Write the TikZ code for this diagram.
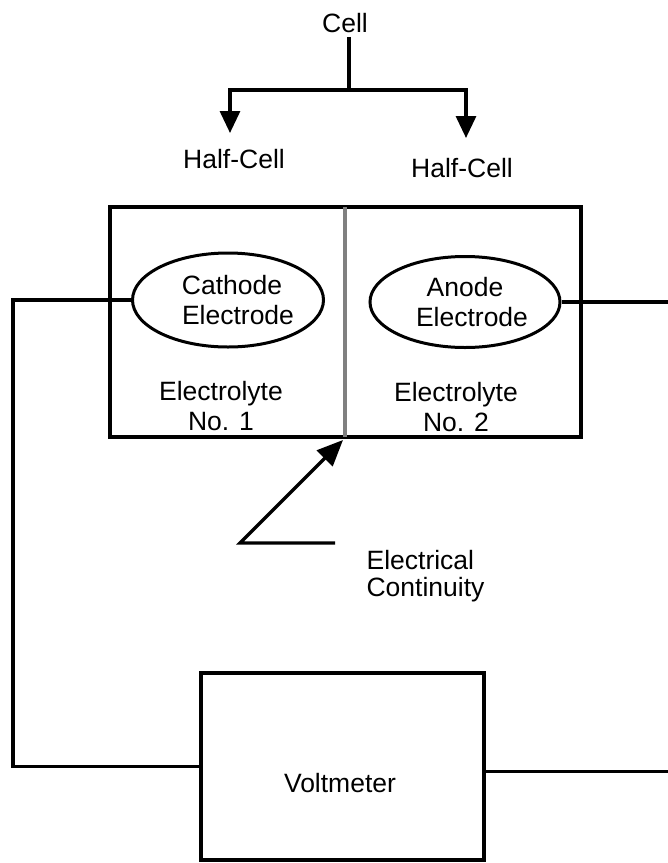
\documentclass[tikz,border=0pt]{standalone}
\usepackage{fontspec}
\setmainfont{Liberation Sans}
\usetikzlibrary{arrows.meta,shapes.geometric}
\begin{document}
\begin{tikzpicture}[x=1pt,y=-1pt,line width=3.2pt,
  font=\fontsize{26.5}{30}\selectfont,
  txt/.style={align=center,inner sep=0pt},
  arr/.style={-{Triangle[length=22pt,width=20pt]}},
  bigarr/.style={-{Triangle[length=26pt,width=22pt]}},
  electrode/.style={ellipse,draw,align=center,inner sep=0pt,line width=3pt},
  divider/.style={line width=3.6pt,draw=black!50}]
\useasboundingbox (0,0) rectangle (668,863);
% top tree
\node[txt,anchor=base] (cell) at (345,32) {Cell};
\coordinate (j) at (349,90);
\coordinate (a1) at (230,133);
\coordinate (a2) at (466,138);
\draw ([yshift=-3pt]cell.south -| j) -- (j);
\draw[arr] (j) -| (a1);
\draw[arr] (j) -| (a2);
\node[txt,anchor=base] (hc1) at (234,168) {Half-Cell};
\node[txt,anchor=base] (hc2) at (462,177) {Half-Cell};
% cell box
\node[draw,minimum width=471pt,minimum height=230pt,inner sep=0pt] (cellbox) at (345.5,322) {};
\coordinate (d) at (345,322);
\draw[divider] ([yshift=-1.6pt]d |- cellbox.north) -- ([yshift=1.6pt]d |- cellbox.south);
% electrodes
\node[electrode,minimum width=191pt,minimum height=94pt] (cath) at (228,300) {\hspace*{8pt}Cathode\\\hspace*{20pt}Electrode};
\node[electrode,minimum width=190pt,minimum height=91pt] (anod) at (465,302) {Anode\\\hspace*{14pt}Electrode};
\node[txt] (el1) at (221,406) {Electrolyte\\No. 1};
\node[txt] (el2) at (456,407) {Electrolyte\\No. 2};
% voltmeter
\node[draw,minimum width=283pt,minimum height=187pt,inner sep=0pt] (volt) at (342.5,766.5) {};
\node[txt,anchor=base] (vlabel) at (340,792) {Voltmeter};
% wires
\coordinate (lw) at (13,297);
\coordinate (re) at (668,304);
\draw (cath.west) -- (cath.west -| lw) |- (volt.west);
\draw (anod.east) -- (anod.east -| re);
\draw ([yshift=-5pt]volt.east) -- ([yshift=-5pt]volt.east -| re);
% electrical continuity
\coordinate (ce) at (335,543);
\coordinate (ct) at (240,543);
\coordinate (tip) at (343,440);
\draw[bigarr] (ce) -- (ct) -- (tip);
\node[align=left,anchor=north west,inner sep=0pt,font=\fontsize{26.5}{27}\selectfont] (cont) at (365,549) {Electrical\\Continuity};
\end{tikzpicture}
\end{document}
